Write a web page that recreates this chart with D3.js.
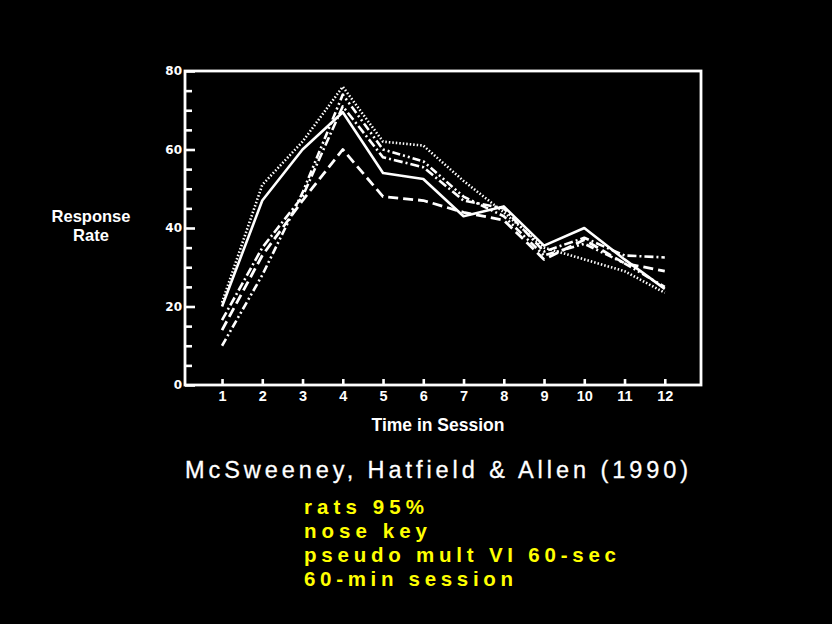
<!DOCTYPE html>
<html><head><meta charset="utf-8">
<script src="https://cdn.jsdelivr.net/npm/d3@7"></script>
<style>html,body{margin:0;padding:0;background:#000;}svg{display:block;}</style>
</head><body>
<script>
// ---- data ----
const sessions = [1,2,3,4,5,6,7,8,9,10,11,12];
const dotted     = [21, 51, 62, 76, 62, 61, 52, 44, 35, 32, 29, 23.5];
const solid      = [20, 47, 60, 69.5, 54, 52.5, 43, 45.5, 35.5, 40, 32, 24.5];
const dashDot    = [16.5, 35, 48, 71, 58, 55.5, 47, 45, 34, 37.5, 33, 32.5];
const dashed     = [14, 33, 47, 60, 48, 47, 44, 42, 32, 37, 31, 29];
const dashDotDot = [10, 28, 49, 74, 60, 57, 48, 43, 33, 36, 31, 25];
const yMajorTicks = [0, 20, 40, 60, 80];
const yMinorTicks = [5,10,15,25,30,35,45,50,55,65,70,75];
const yLabel = ["Response", "Rate"];
const xLabel = "Time in Session";
const citation = "McSweeney, Hatfield & Allen (1990)";
const notes = ["rats 95%", "nose key", "pseudo mult VI 60-sec", "60-min session"];

const series = [
  {values: dotted, dash: "1.5,2", w: 2.6},
  {values: solid, dash: null, w: 2.6},
  {values: dashDot, dash: "9,3,2,3", w: 2.6},
  {values: dashed, dash: "10,5", w: 2.8},
  {values: dashDotDot, dash: "8,3,2,3,2,3", w: 2.6}
];

const W = 832, H = 624;
const svg = d3.select("body").append("svg").attr("width", W).attr("height", H)
  .style("background", "#000");
svg.append("rect").attr("width", W).attr("height", H).attr("fill", "#000");

const x = d3.scaleLinear().domain([0.08, 12.9]).range([185, 701]);
const y = d3.scaleLinear().domain([0, 80]).range([385, 71]);

// frame
svg.append("rect")
  .attr("x", x.range()[0]).attr("y", y.range()[1])
  .attr("width", x.range()[1] - x.range()[0])
  .attr("height", y.range()[0] - y.range()[1])
  .attr("fill", "none").attr("stroke", "#fff").attr("stroke-width", 2.8);

// y axis
const yAx = svg.append("g").attr("transform", `translate(${x.range()[0]},0)`)
  .call(d3.axisLeft(y).tickValues(yMajorTicks).tickSize(-10).tickPadding(3).tickFormat(d3.format("d")));
const yMin = svg.append("g").attr("transform", `translate(${x.range()[0]},0)`)
  .call(d3.axisLeft(y).tickValues(yMinorTicks).tickSize(-7).tickFormat(""));

// x axis
const xAx = svg.append("g").attr("transform", `translate(0,${y.range()[0]})`)
  .call(d3.axisBottom(x).tickValues(sessions).tickSize(-6).tickPadding(4).tickFormat(d3.format("d")));

[yAx, yMin, xAx].forEach(g => {
  g.select(".domain").remove();
  g.selectAll("line").attr("stroke", "#fff").attr("stroke-width", 2.6);
  g.selectAll("text").attr("fill", "#fff").style("font-weight", "bold");
});
yAx.selectAll("text").style("font-family", "'DejaVu Sans', sans-serif").style("font-size", "12px");
xAx.selectAll("text").style("font-family", "'Liberation Sans', Arial, sans-serif")
  .style("font-size", "14.5px").attr("dy", "0.85em");

// lines
const line = d3.line().x((d, i) => x(sessions[i])).y(d => y(d));
svg.append("g").selectAll("path").data(series).join("path")
  .attr("d", d => line(d.values))
  .attr("fill", "none").attr("stroke", "#fff").attr("stroke-width", d => d.w)
  .attr("stroke-linejoin", "round")
  .attr("stroke-dasharray", d => d.dash);

// axis titles
const font = "'Liberation Sans', Arial, Helvetica, sans-serif";
svg.append("text").attr("x", 91).attr("text-anchor", "middle")
  .style("font-family", font).style("font-weight", "bold").style("font-size", "16.5px")
  .attr("fill", "#fff")
  .selectAll("tspan").data(yLabel).join("tspan")
  .attr("x", 91).attr("y", (d, i) => 222 + i * 19).text(d => d);

svg.append("text").attr("x", 438).attr("y", 431).attr("text-anchor", "middle")
  .style("font-family", font).style("font-weight", "bold").style("font-size", "17.5px")
  .attr("fill", "#fff").text(xLabel);

// citation
svg.append("text").attr("x", 185).attr("y", 478)
  .attr("textLength", 503).attr("lengthAdjust", "spacing")
  .style("font-family", font).style("font-size", "23.5px")
  .attr("fill", "#fff").attr("stroke", "#fff").attr("stroke-width", 0.3)
  .text(citation);

// notes
const noteWidths = [120, 123, 312, 209];
svg.append("g").selectAll("text").data(notes).join("text")
  .attr("x", 304).attr("y", (d, i) => 513.5 + i * 24.2)
  .attr("textLength", (d, i) => noteWidths[i]).attr("lengthAdjust", "spacing")
  .style("font-family", font).style("font-size", "20.5px").style("font-weight", "bold")
  .attr("fill", "#ffff00").text(d => d);
</script>
</body></html>
